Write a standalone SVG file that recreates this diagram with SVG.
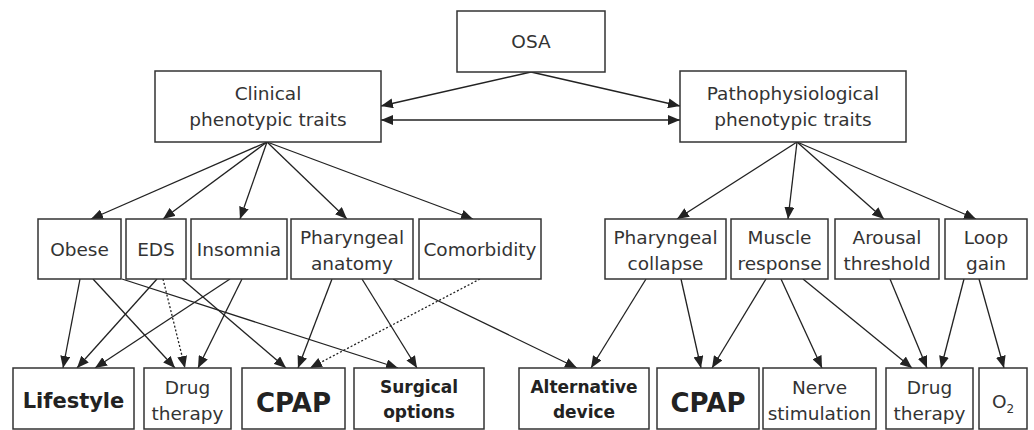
<svg xmlns="http://www.w3.org/2000/svg" width="1034" height="430" viewBox="0 0 1034 430">
<style>
.box{fill:#fff;stroke:#333;stroke-width:1.5}
.t{font-family:"DejaVu Sans",sans-serif;font-size:18.5px;fill:#333;text-anchor:middle}
.b{font-family:"DejaVu Sans",sans-serif;font-weight:bold;font-size:17px;fill:#222;text-anchor:middle}
.ln{stroke:#222;stroke-width:1.3;fill:none;marker-end:url(#ah)}
.dot{stroke-dasharray:2,2}
</style>
<defs>
<marker id="ah" markerUnits="userSpaceOnUse" markerWidth="12" markerHeight="10" refX="12" refY="5" orient="auto">
<path d="M0,0 L12,5 L0,10 z" fill="#222"/>
</marker>
<marker id="ahs" markerUnits="userSpaceOnUse" markerWidth="12" markerHeight="10" refX="0" refY="5" orient="auto">
<path d="M12,0 L0,5 L12,10 z" fill="#222"/>
</marker>
</defs>
<g id="connectors">
<line class="ln" x1="531" y1="72" x2="381" y2="106"/>
<line class="ln" x1="531" y1="72" x2="680" y2="106"/>
<line class="ln" x1="381" y1="120" x2="680" y2="120" marker-start="url(#ahs)"/>
<line class="ln" x1="267" y1="142" x2="91" y2="219"/>
<line class="ln" x1="267" y1="142" x2="163" y2="219"/>
<line class="ln" x1="267" y1="142" x2="240" y2="219"/>
<line class="ln" x1="267" y1="142" x2="347" y2="219"/>
<line class="ln" x1="267" y1="142" x2="473" y2="219"/>
<line class="ln" x1="797" y1="142" x2="677" y2="219"/>
<line class="ln" x1="797" y1="142" x2="788" y2="219"/>
<line class="ln" x1="797" y1="142" x2="884" y2="219"/>
<line class="ln" x1="797" y1="142" x2="976" y2="219"/>
<line class="ln" x1="80" y1="279" x2="63" y2="368"/>
<line class="ln" x1="93" y1="279" x2="175" y2="368"/>
<line class="ln" x1="122" y1="279" x2="398" y2="368"/>
<line class="ln" x1="157" y1="279" x2="77" y2="368"/>
<line class="ln dot" x1="163" y1="279" x2="185" y2="368"/>
<line class="ln" x1="182" y1="279" x2="286" y2="368"/>
<line class="ln" x1="230" y1="279" x2="95" y2="368"/>
<line class="ln" x1="242" y1="279" x2="198" y2="368"/>
<line class="ln" x1="332" y1="279" x2="298" y2="368"/>
<line class="ln" x1="362" y1="279" x2="417" y2="368"/>
<line class="ln" x1="393" y1="279" x2="577" y2="368"/>
<line class="ln dot" x1="480" y1="279" x2="310" y2="368"/>
<line class="ln" x1="646" y1="279" x2="591" y2="368"/>
<line class="ln" x1="681" y1="279" x2="701" y2="368"/>
<line class="ln" x1="766" y1="279" x2="712" y2="368"/>
<line class="ln" x1="781" y1="279" x2="822" y2="368"/>
<line class="ln" x1="803" y1="279" x2="912" y2="368"/>
<line class="ln" x1="890" y1="279" x2="927" y2="368"/>
<line class="ln" x1="964" y1="279" x2="941" y2="368"/>
<line class="ln" x1="979" y1="279" x2="1004" y2="368"/>
</g>
<g id="osa"><rect class="box" x="457" y="11" width="148" height="61"/><text class="t" x="531" y="48">OSA</text></g>
<g id="clinical"><rect class="box" x="155" y="71" width="226" height="71"/><text class="t" x="268" y="100">Clinical</text><text class="t" x="268" y="126">phenotypic traits</text></g>
<g id="patho"><rect class="box" x="680" y="71" width="226" height="71"/><text class="t" x="793" y="100">Pathophysiological</text><text class="t" x="793" y="126">phenotypic traits</text></g>
<g id="obese"><rect class="box" x="38" y="219" width="83" height="60"/><text class="t" x="79.5" y="256">Obese</text></g>
<g id="eds"><rect class="box" x="126" y="219" width="60" height="60"/><text class="t" x="156" y="256">EDS</text></g>
<g id="insomnia"><rect class="box" x="191" y="219" width="96" height="60"/><text class="t" x="239" y="256">Insomnia</text></g>
<g id="pharyngeal-anatomy"><rect class="box" x="291" y="219" width="122" height="60"/><text class="t" x="352" y="244">Pharyngeal</text><text class="t" x="352" y="270">anatomy</text></g>
<g id="comorbidity"><rect class="box" x="419" y="219" width="122" height="60"/><text class="t" x="480" y="256">Comorbidity</text></g>
<g id="pharyngeal-collapse"><rect class="box" x="605" y="219" width="121" height="60"/><text class="t" x="665.5" y="244">Pharyngeal</text><text class="t" x="665.5" y="270">collapse</text></g>
<g id="muscle-response"><rect class="box" x="731" y="219" width="97" height="60"/><text class="t" x="779.5" y="244">Muscle</text><text class="t" x="779.5" y="270">response</text></g>
<g id="arousal-threshold"><rect class="box" x="835" y="219" width="104" height="60"/><text class="t" x="887" y="244">Arousal</text><text class="t" x="887" y="270">threshold</text></g>
<g id="loop-gain"><rect class="box" x="945" y="219" width="82" height="60"/><text class="t" x="986" y="244">Loop</text><text class="t" x="986" y="270">gain</text></g>
<g id="lifestyle"><rect class="box" x="13" y="368" width="121" height="61"/><text class="b" x="73.5" y="408" style="font-size:21px">Lifestyle</text></g>
<g id="drug-therapy-1"><rect class="box" x="144" y="368" width="87" height="61"/><text class="t" x="187.5" y="394">Drug</text><text class="t" x="187.5" y="420">therapy</text></g>
<g id="cpap-1"><rect class="box" x="242" y="368" width="103" height="61"/><text class="b" x="293.5" y="412" style="font-size:26px">CPAP</text></g>
<g id="surgical"><rect class="box" x="354" y="368" width="130" height="61"/><text class="b" x="419" y="393">Surgical</text><text class="b" x="419" y="418">options</text></g>
<g id="alternative-device"><rect class="box" x="519" y="368" width="130" height="61"/><text class="b" x="584" y="393">Alternative</text><text class="b" x="584" y="418">device</text></g>
<g id="cpap-2"><rect class="box" x="657" y="368" width="102" height="61"/><text class="b" x="708" y="412" style="font-size:26px">CPAP</text></g>
<g id="nerve-stimulation"><rect class="box" x="763" y="368" width="113" height="61"/><text class="t" x="819.5" y="394">Nerve</text><text class="t" x="819.5" y="420">stimulation</text></g>
<g id="drug-therapy-2"><rect class="box" x="886" y="368" width="87" height="61"/><text class="t" x="929.5" y="394">Drug</text><text class="t" x="929.5" y="420">therapy</text></g>
<g id="o2"><rect class="box" x="979" y="368" width="48" height="61"/><text class="t" x="1003" y="408">O<tspan font-size="12" dy="5">2</tspan></text></g>
</svg>
